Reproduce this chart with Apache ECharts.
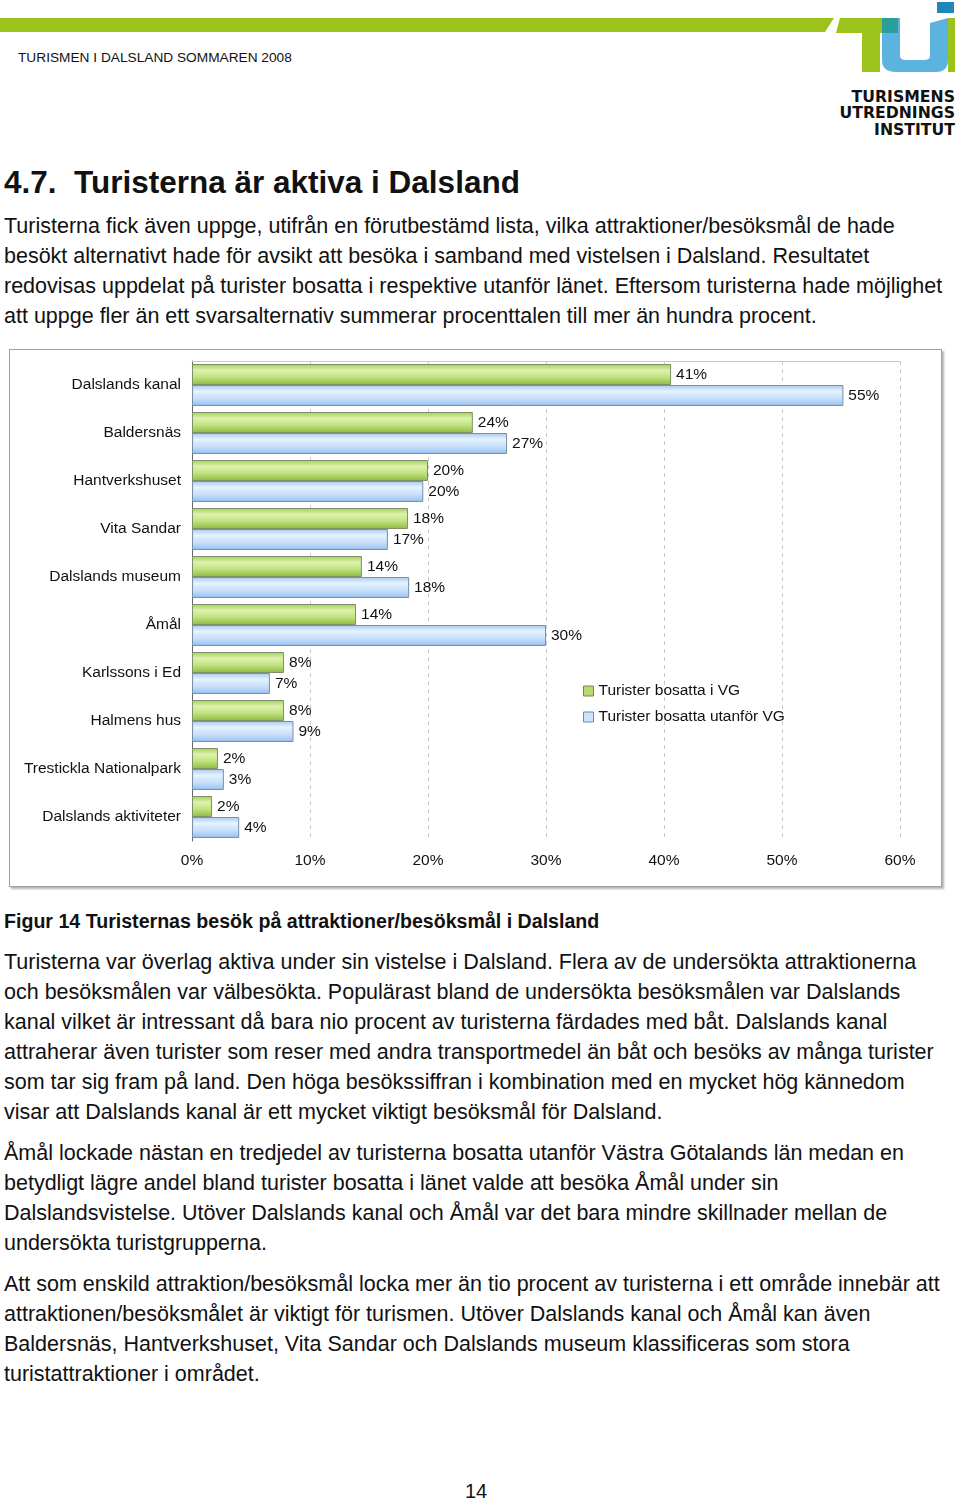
<!DOCTYPE html>
<html>
<head>
<meta charset="utf-8">
<script src="https://cdn.jsdelivr.net/npm/echarts@6/dist/echarts.min.js"></script>
<style>
  html, body { margin:0; padding:0; background:#fff; }
  body { width:960px; height:1502px; position:relative; overflow:hidden; font-family:"Liberation Sans", Arial, Helvetica, sans-serif; color:#111; }
  .abs { position:absolute; white-space:nowrap; }
  .para { left:4px; font-size:21.5px; line-height:30px; }
  #box { position:absolute; left:9px; top:349px; width:931px; height:536px; border:1px solid #a0a0a0; box-shadow:2px 2px 2px rgba(0,0,0,0.3); background:#fff; }
  #chart { position:absolute; left:0; top:0; width:931px; height:536px; }
</style>
</head>
<body>
<svg class="abs" style="left:0;top:0" width="960" height="80" viewBox="0 0 960 80">
  <polygon points="0,18 834,18 825,32 0,32" fill="#9cc31c"/>
  <polygon points="840,18 898,18 898,33 836,33" fill="#9cc31c"/>
  <rect x="862" y="18" width="18" height="54" fill="#9cc31c"/>
  <path d="M882,18 L900,18 L900,56 Q900,60 906,60 L924,60 Q930,60 930,56 L930,23 L948,18 L948,60 Q948,72 936,72 L896,72 Q882,72 882,60 Z" fill="#5cb3df"/>
  <rect x="882" y="18" width="16" height="15" fill="#2a9e9c"/>
  <rect x="948" y="18" width="7" height="54" fill="#9cc31c"/>
  <rect x="937" y="2" width="17" height="11" fill="#1f88b8"/>
</svg>
<div class="abs" style="left:18px;top:50px;font-size:13.7px;line-height:16px;">TURISMEN I DALSLAND SOMMAREN 2008</div>
<div class="abs" style="right:5px;top:89px;font-family:'DejaVu Sans',sans-serif;font-weight:bold;font-size:15.7px;line-height:16.4px;text-align:right;color:#111;">TURISMENS<br>UTREDNINGS<br>INSTITUT</div>

<div class="abs" style="left:4px;top:163px;font-size:31.5px;line-height:38px;font-weight:bold;">4.7.&nbsp;&nbsp;Turisterna är aktiva i Dalsland</div>

<div class="abs para" style="top:211px;">Turisterna fick även uppge, utifrån en förutbestämd lista, vilka attraktioner/besöksmål de hade<br>besökt alternativt hade för avsikt att besöka i samband med vistelsen i Dalsland. Resultatet<br>redovisas uppdelat på turister bosatta i respektive utanför länet. Eftersom turisterna hade möjlighet<br>att uppge fler än ett svarsalternativ summerar procenttalen till mer än hundra procent.</div>

<div id="box"><div id="chart"></div></div>

<div class="abs" style="left:4px;top:908px;font-size:19.6px;line-height:26px;font-weight:bold;">Figur 14 Turisternas besök på attraktioner/besöksmål i Dalsland</div>

<div class="abs para" style="top:947px;">Turisterna var överlag aktiva under sin vistelse i Dalsland. Flera av de undersökta attraktionerna<br>och besöksmålen var välbesökta. Populärast bland de undersökta besöksmålen var Dalslands<br>kanal vilket är intressant då bara nio procent av turisterna färdades med båt. Dalslands kanal<br>attraherar även turister som reser med andra transportmedel än båt och besöks av många turister<br>som tar sig fram på land. Den höga besökssiffran i kombination med en mycket hög kännedom<br>visar att Dalslands kanal är ett mycket viktigt besöksmål för Dalsland.</div>

<div class="abs para" style="top:1138px;">Åmål lockade nästan en tredjedel av turisterna bosatta utanför Västra Götalands län medan en<br>betydligt lägre andel bland turister bosatta i länet valde att besöka Åmål under sin<br>Dalslandsvistelse. Utöver Dalslands kanal och Åmål var det bara mindre skillnader mellan de<br>undersökta turistgrupperna.</div>

<div class="abs para" style="top:1269px;">Att som enskild attraktion/besöksmål locka mer än tio procent av turisterna i ett område innebär att<br>attraktionen/besöksmålet är viktigt för turismen. Utöver Dalslands kanal och Åmål kan även<br>Baldersnäs, Hantverkshuset, Vita Sandar och Dalslands museum klassificeras som stora<br>turistattraktioner i området.</div>

<div class="abs" style="left:456px;width:40px;text-align:center;top:1479px;font-size:20px;line-height:24px;">14</div>

<script>
const categories = ['Dalslands kanal','Baldersnäs','Hantverkshuset','Vita Sandar','Dalslands museum','Åmål','Karlssons i Ed','Halmens hus','Trestickla Nationalpark','Dalslands aktiviteter'];
const seriesNames = ['Turister bosatta i VG','Turister bosatta utanför VG'];
const inVG = [40.6, 23.8, 20.0, 18.3, 14.4, 13.9, 7.8, 7.8, 2.2, 1.7];
const outVG = [55.2, 26.7, 19.6, 16.6, 18.4, 30.0, 6.6, 8.6, 2.7, 4.0];
const xTicks = [0, 10, 20, 30, 40, 50, 60];

const chart = echarts.init(document.getElementById('chart'));
const G = echarts.graphic.LinearGradient;
const greenFill = new G(0,0,0,1,[{offset:0,color:'#a2cc58'},{offset:0.3,color:'#dcf2ac'},{offset:0.65,color:'#bfe07e'},{offset:1,color:'#8cbb3e'}]);
const blueFill = new G(0,0,0,1,[{offset:0,color:'#a6c8f2'},{offset:0.3,color:'#e6f3ff'},{offset:0.65,color:'#c6e0fc'},{offset:1,color:'#98bdea'}]);
const labelCfg = {show:true, position:'right', distance:5, fontSize:15.5, color:'#111', fontFamily:'Liberation Sans, Arial, sans-serif', formatter: p => Math.round(p.value) + '%'};

chart.setOption({
  animation:false,
  textStyle:{fontFamily:'Liberation Sans, Arial, sans-serif'},
  grid:{left:182, top:11, width:708, height:480, containLabel:false},
  legend:{
    orient:'vertical', left:568, top:328, itemWidth:10, itemHeight:10, itemGap:10,
    textStyle:{fontSize:15.5, color:'#111'},
    data:[
      {name:seriesNames[0], icon:'rect', itemStyle:{color:'#b6da6c', borderColor:'#6d8a48', borderWidth:1}},
      {name:seriesNames[1], icon:'rect', itemStyle:{color:'#cde3fb', borderColor:'#6f8aa8', borderWidth:1}}
    ]
  },
  xAxis:[{
    type:'value', min:xTicks[0], max:xTicks[xTicks.length-1], interval:10,
    axisLabel:{formatter:'{value}%', fontSize:15.5, color:'#111', margin:12},
    axisLine:{show:false}, axisTick:{show:false},
    splitLine:{show:true, lineStyle:{type:[4,4], color:'#c8c8c8', width:1}}
  },{
    type:'value', position:'top', min:0, max:60,
    axisLine:{show:true, lineStyle:{color:'#c8c8c8'}},
    axisLabel:{show:false}, axisTick:{show:false}, splitLine:{show:false}
  }],
  yAxis:{
    type:'category', data:categories, inverse:true,
    axisLine:{lineStyle:{color:'#666'}},
    axisTick:{length:5, lineStyle:{color:'#666'}},
    axisLabel:{fontSize:15.5, color:'#111', margin:11}
  },
  series:[
    {name:seriesNames[0], type:'bar', data:inVG, barWidth:21, barGap:'0%',
     itemStyle:{color:greenFill, borderColor:'#7e9164', borderWidth:1}, label:labelCfg},
    {name:seriesNames[1], type:'bar', data:outVG, barWidth:21, barGap:'0%',
     itemStyle:{color:blueFill, borderColor:'#7890aa', borderWidth:1}, label:labelCfg}
  ]
});
</script>
</body>
</html>
